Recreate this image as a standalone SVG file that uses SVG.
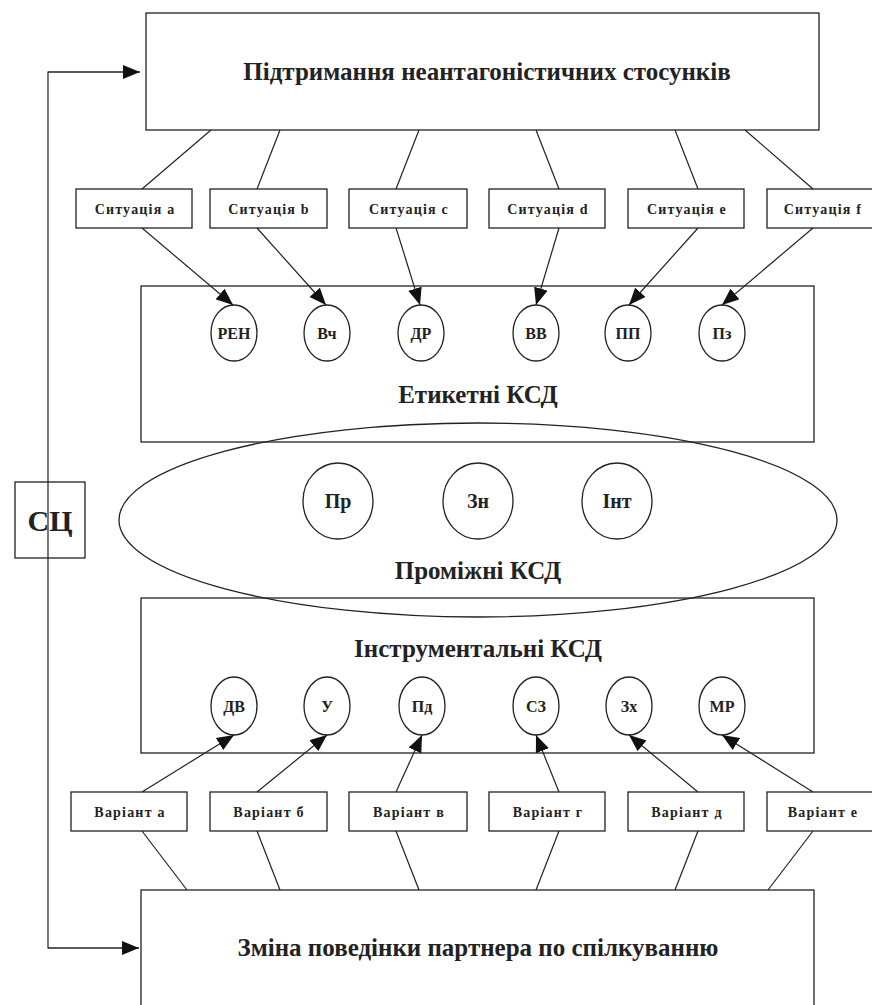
<svg xmlns="http://www.w3.org/2000/svg" width="872" height="1005" viewBox="0 0 872 1005">
<style>
.b{fill:none;stroke:#222;stroke-width:1.3}
.l{fill:none;stroke:#222;stroke-width:1.2}
.t{font-family:'Liberation Serif','Times New Roman','DejaVu Serif',serif;font-weight:bold;fill:#222;text-anchor:middle}
.big{font-size:25px}
.sm{font-size:14px;letter-spacing:1.2px}
.el{font-size:16px}
.ci{font-size:20px}
</style>
<defs>
<marker id="ah" markerUnits="userSpaceOnUse" markerWidth="18" markerHeight="14" refX="17" refY="7" orient="auto">
<path d="M0,0 L17,7 L0,14 Z" fill="#111"/>
</marker>
</defs>
<rect width="872" height="1005" fill="#fff"/>

<g id="top"><rect class="b" x="146" y="13" width="673" height="117"/><text class="t big" x="487" y="80">Підтримання неантагоністичних стосунків</text></g>
<g id="bottom"><rect class="b" x="141" y="890" width="673" height="130"/><text class="t big" x="478" y="956">Зміна поведінки партнера по спілкуванню</text></g>
<g id="sc"><rect class="b" x="15" y="482" width="70" height="76"/><text class="t" x="50" y="531" font-size="30">СЦ</text></g>

<g id="etiket"><rect class="b" x="141" y="286" width="673" height="156"/><text class="t big" x="478" y="403">Етикетні КСД</text></g>
<g id="instr"><rect class="b" x="141" y="598" width="673" height="155"/><text class="t big" x="478" y="657">Інструментальні КСД</text></g>
<g id="promizh"><ellipse class="b" cx="478" cy="520" rx="359" ry="97"/><text class="t big" x="478" y="579">Проміжні КСД</text></g>

<g id="sa"><rect class="b" x="76" y="189" width="116" height="39"/><text class="t sm" x="135" y="214">Ситуація a</text></g>
<g id="sb"><rect class="b" x="210" y="189" width="117" height="39"/><text class="t sm" x="269" y="214">Ситуація b</text></g>
<g id="sc2"><rect class="b" x="349" y="189" width="118" height="39"/><text class="t sm" x="409" y="214">Ситуація c</text></g>
<g id="sd"><rect class="b" x="489" y="189" width="116" height="39"/><text class="t sm" x="548" y="214">Ситуація d</text></g>
<g id="se"><rect class="b" x="628" y="189" width="116" height="39"/><text class="t sm" x="687" y="214">Ситуація e</text></g>
<g id="sf"><rect class="b" x="767" y="189" width="116" height="39"/><text class="t sm" x="823" y="214">Ситуація f</text></g>

<g id="va"><rect class="b" x="71" y="792" width="116" height="39"/><text class="t sm" x="130" y="817">Варіант а</text></g>
<g id="vb"><rect class="b" x="210" y="792" width="117" height="39"/><text class="t sm" x="269" y="817">Варіант б</text></g>
<g id="vv"><rect class="b" x="349" y="792" width="118" height="39"/><text class="t sm" x="409" y="817">Варіант в</text></g>
<g id="vg"><rect class="b" x="489" y="792" width="116" height="39"/><text class="t sm" x="548" y="817">Варіант г</text></g>
<g id="vd"><rect class="b" x="628" y="792" width="116" height="39"/><text class="t sm" x="687" y="817">Варіант  д</text></g>
<g id="ve"><rect class="b" x="767" y="792" width="116" height="39"/><text class="t sm" x="823" y="817">Варіант  е</text></g>

<g id="e1"><ellipse class="b" cx="234" cy="333" rx="23" ry="28"/><text class="t el" x="234" y="339">РЕН</text></g>
<g id="e2"><ellipse class="b" cx="327" cy="333" rx="23" ry="28"/><text class="t el" x="327" y="339">Вч</text></g>
<g id="e3"><ellipse class="b" cx="421" cy="333" rx="23" ry="28"/><text class="t el" x="421" y="339">ДР</text></g>
<g id="e4"><ellipse class="b" cx="536" cy="333" rx="23" ry="28"/><text class="t el" x="536" y="339">ВВ</text></g>
<g id="e5"><ellipse class="b" cx="628" cy="333" rx="23" ry="28"/><text class="t el" x="628" y="339">ПП</text></g>
<g id="e6"><ellipse class="b" cx="722" cy="333" rx="23" ry="28"/><text class="t el" x="722" y="339">Пз</text></g>

<g id="c1"><ellipse class="b" cx="338" cy="501" rx="35" ry="38"/><text class="t ci" x="338" y="508">Пр</text></g>
<g id="c2"><ellipse class="b" cx="478" cy="501" rx="35" ry="38"/><text class="t ci" x="478" y="508">Зн</text></g>
<g id="c3"><ellipse class="b" cx="617" cy="501" rx="35" ry="38"/><text class="t ci" x="617" y="508">Інт</text></g>

<g id="i1"><ellipse class="b" cx="234" cy="706" rx="23" ry="29"/><text class="t el" x="234" y="712">ДВ</text></g>
<g id="i2"><ellipse class="b" cx="327" cy="706" rx="23" ry="29"/><text class="t el" x="327" y="712">У</text></g>
<g id="i3"><ellipse class="b" cx="422" cy="706" rx="23" ry="29"/><text class="t el" x="422" y="712">Пд</text></g>
<g id="i4"><ellipse class="b" cx="536" cy="706" rx="23" ry="29"/><text class="t el" x="536" y="712">СЗ</text></g>
<g id="i5"><ellipse class="b" cx="629" cy="706" rx="23" ry="29"/><text class="t el" x="629" y="712">Зх</text></g>
<g id="i6"><ellipse class="b" cx="722" cy="706" rx="23" ry="29"/><text class="t el" x="722" y="712">МР</text></g>

<g id="connectors">
<polyline class="l" points="140,72 48,72 48,948 139,948"/>
<line class="l" x1="48" y1="72" x2="140" y2="72" marker-end="url(#ah)"/>
<line class="l" x1="48" y1="948" x2="139" y2="948" marker-end="url(#ah)"/>

<line class="l" x1="211" y1="130" x2="142" y2="189"/>
<line class="l" x1="280" y1="130" x2="257" y2="189"/>
<line class="l" x1="419" y1="130" x2="396" y2="189"/>
<line class="l" x1="536" y1="130" x2="559" y2="189"/>
<line class="l" x1="675" y1="130" x2="698" y2="189"/>
<line class="l" x1="745" y1="130" x2="813" y2="189"/>

<line class="l" x1="142" y1="228" x2="233" y2="305" marker-end="url(#ah)"/>
<line class="l" x1="257" y1="228" x2="326" y2="305" marker-end="url(#ah)"/>
<line class="l" x1="396" y1="228" x2="420" y2="305" marker-end="url(#ah)"/>
<line class="l" x1="559" y1="228" x2="536" y2="305" marker-end="url(#ah)"/>
<line class="l" x1="698" y1="228" x2="629" y2="305" marker-end="url(#ah)"/>
<line class="l" x1="813" y1="228" x2="722" y2="305" marker-end="url(#ah)"/>

<line class="l" x1="142" y1="792" x2="234" y2="735" marker-end="url(#ah)"/>
<line class="l" x1="257" y1="792" x2="327" y2="735" marker-end="url(#ah)"/>
<line class="l" x1="396" y1="792" x2="422" y2="735" marker-end="url(#ah)"/>
<line class="l" x1="559" y1="792" x2="536" y2="735" marker-end="url(#ah)"/>
<line class="l" x1="698" y1="792" x2="629" y2="735" marker-end="url(#ah)"/>
<line class="l" x1="813" y1="792" x2="722" y2="735" marker-end="url(#ah)"/>

<line class="l" x1="142" y1="831" x2="187" y2="890"/>
<line class="l" x1="257" y1="831" x2="280" y2="890"/>
<line class="l" x1="396" y1="831" x2="419" y2="890"/>
<line class="l" x1="559" y1="831" x2="536" y2="890"/>
<line class="l" x1="698" y1="831" x2="675" y2="890"/>
<line class="l" x1="813" y1="831" x2="768" y2="890"/>
</g>
</svg>
